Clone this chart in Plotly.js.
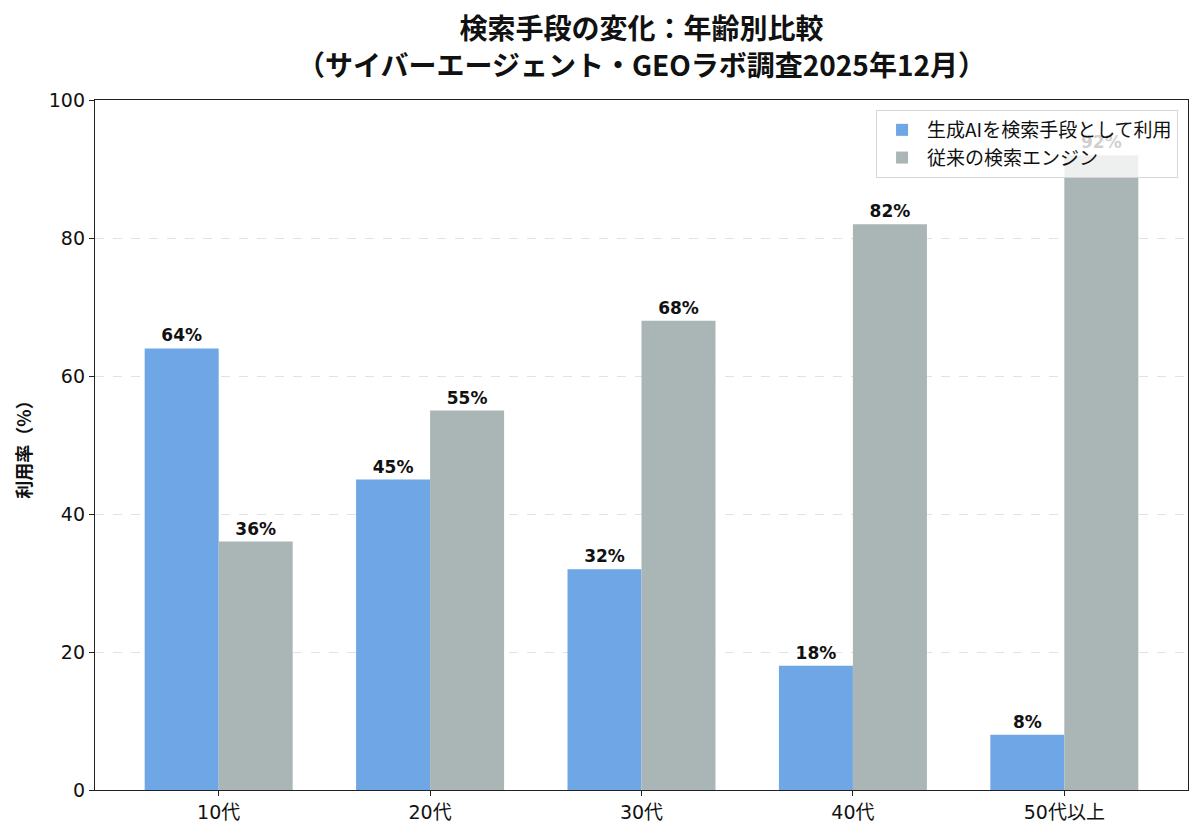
<!DOCTYPE html>
<html>
<head>
<meta charset="utf-8">
<script src="https://cdn.plot.ly/plotly-3.0.1.min.js"></script>
<style>html,body{margin:0;padding:0;background:#fff}#chart{width:1200px;height:834px}</style>
</head>
<body>
<div id="chart"></div>
<script>
const ageGroups = ['10代', '20代', '30代', '40代', '50代以上'];
const aiSearch = [64, 45, 32, 18, 8];
const classicSearch = [36, 55, 68, 82, 92];
const seriesNames = ['生成AIを検索手段として利用', '従来の検索エンジン'];
const yTicks = [0, 20, 40, 60, 80, 100];

const cjk = '"Noto Sans CJK JP", "Noto Sans", sans-serif';
const mixed = '"DejaVu Sans", "Noto Sans CJK JP", sans-serif';
const pct = arr => arr.map(v => v + '%');

const labelFont = { family: mixed, size: 17, color: '#111', weight: 'bold' };

const traces = [
  { type: 'bar', name: seriesNames[0], x: ageGroups, y: aiSearch, text: pct(aiSearch),
    textposition: 'outside', cliponaxis: false, textfont: labelFont,
    marker: { color: '#6ea6e6' }, hoverinfo: 'x+y' },
  { type: 'bar', name: seriesNames[1], x: ageGroups, y: classicSearch, text: pct(classicSearch),
    textposition: 'outside', cliponaxis: false, textfont: labelFont,
    marker: { color: '#aab6b5' }, hoverinfo: 'x+y' }
];

const layout = {
  width: 1200, height: 834,
  margin: { l: 95, r: 12, t: 100, b: 44 },
  paper_bgcolor: '#fff', plot_bgcolor: '#fff',
  font: { family: cjk, size: 16, color: '#111' },
  title: { text: '<b>検索手段の変化：年齢別比較<br>（サイバーエージェント・GEOラボ調査2025年12月）</b>',
    font: { family: cjk, size: 28, color: '#111' }, xref: 'paper', x: 0.5, xanchor: 'center',
    yref: 'container', y: 0.953, yanchor: 'middle' },
  barmode: 'group', bargap: 0.3, bargroupgap: 0,
  xaxis: { type: 'category', range: [-0.585, 4.585], showline: true, linecolor: '#222', linewidth: 1.2,
    mirror: true, ticks: 'outside', ticklen: 5, tickcolor: '#222', showgrid: false,
    tickfont: { family: mixed, size: 19, color: '#111' } },
  yaxis: { range: [0, 100], tickvals: yTicks, showline: true, linecolor: '#222', linewidth: 1.2,
    mirror: true, ticks: 'outside', ticklen: 5, tickcolor: '#222',
    showgrid: true, gridcolor: '#e2e2e2', griddash: 'dash', gridwidth: 1, zeroline: false,
    tickfont: { family: mixed, size: 19, color: '#111' },
    title: { text: '<b>利用率（%）</b>', font: { family: cjk, size: 18, color: '#111' }, standoff: 12 } },
  legend: { x: 0.9909, xanchor: 'right', y: 0.9855, yanchor: 'top', bgcolor: 'rgba(255,255,255,0.8)',
    bordercolor: '#d6d6d6', borderwidth: 1, font: { family: cjk, size: 19, color: '#111' },
    traceorder: 'normal', itemwidth: 40, tracegroupgap: 0 },
  showlegend: true
};

Plotly.newPlot('chart', traces, layout, { displayModeBar: false, staticPlot: true });
</script>
</body>
</html>
